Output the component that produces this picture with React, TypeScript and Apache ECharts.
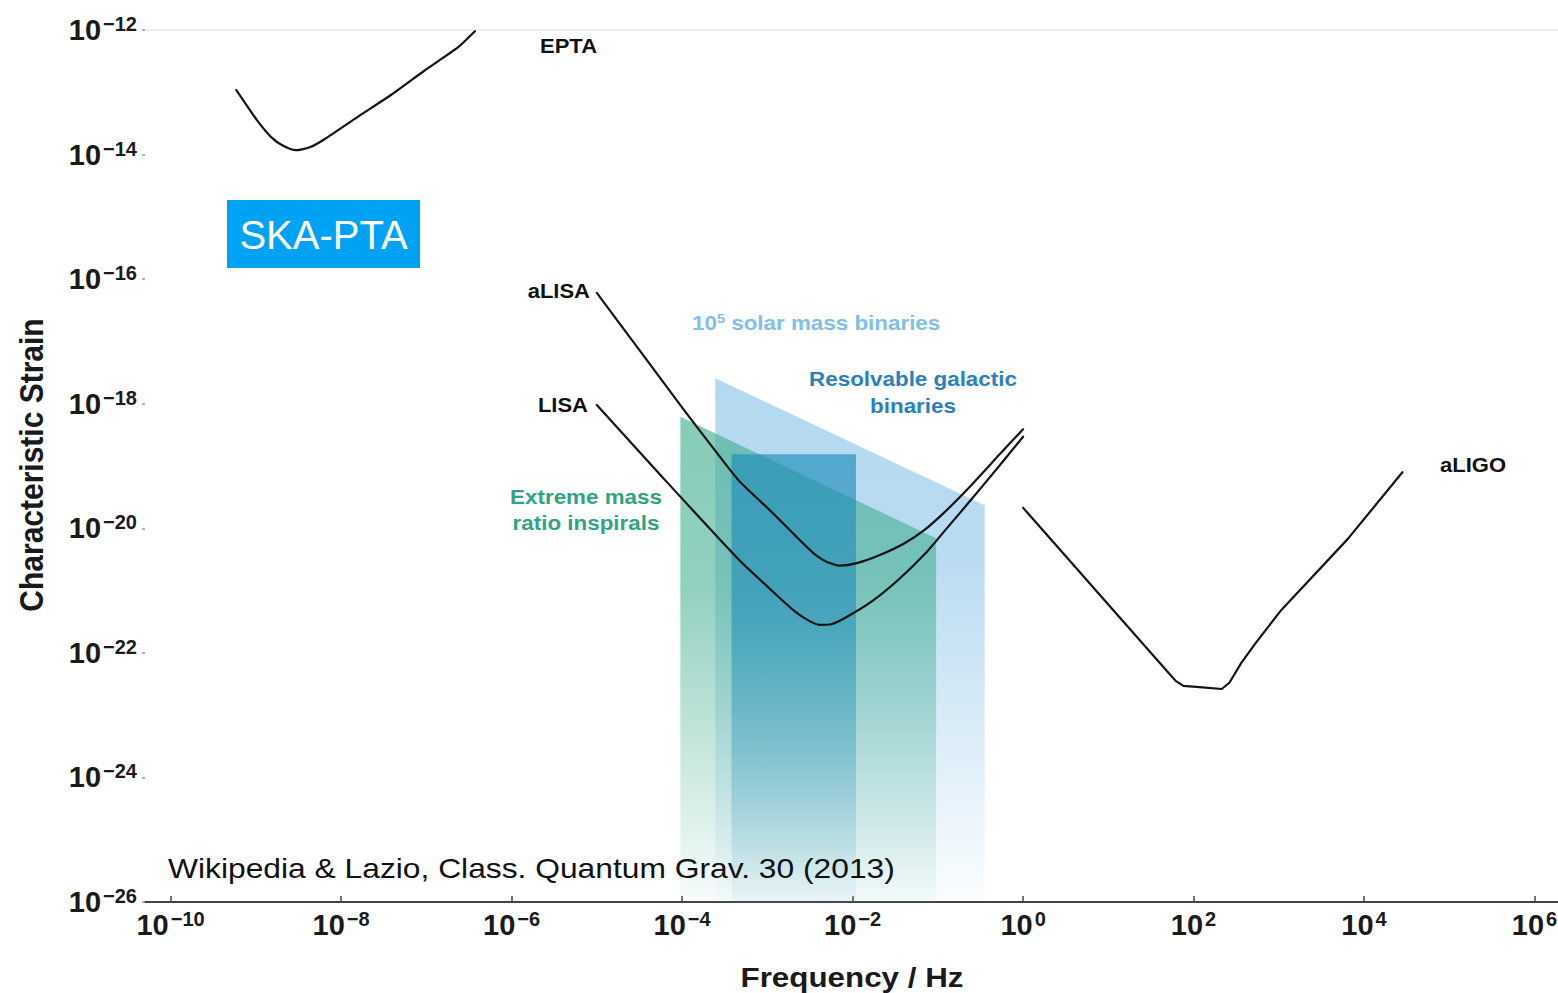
import React, { useEffect, useRef } from "react";
import * as echarts from "echarts";

// All values are log10(frequency / Hz) and log10(characteristic strain)
const xTicks = [-10, -8, -6, -4, -2, 0, 2, 4, 6];
const yTicks = [-26, -24, -22, -20, -18, -16, -14, -12];
const xRange = [-10.3, 6.275];
const yRange = [-26, -12];

const eptaCurve = [
  [-9.23, -12.96], [-8.98, -13.46], [-8.82, -13.72], [-8.69, -13.85], [-8.53, -13.93],
  [-8.36, -13.88], [-8.19, -13.75], [-7.8, -13.39], [-7.41, -13.04], [-7.02, -12.65],
  [-6.63, -12.28], [-6.43, -12.02],
];

const aLisaCurve = [
  [-5.0, -16.22], [-4.5, -17.14], [-3.95, -18.15], [-3.58, -18.81], [-3.33, -19.24],
  [-2.94, -19.75], [-2.62, -20.19], [-2.45, -20.41], [-2.3, -20.54], [-2.15, -20.6],
  [-1.95, -20.56], [-1.68, -20.43], [-1.39, -20.24], [-1.16, -20.03], [-0.92, -19.74],
  [-0.63, -19.34], [-0.28, -18.82], [0.0, -18.41],
];

const lisaCurve = [
  [-5.0, -18.02], [-4.23, -19.18], [-3.33, -20.51], [-2.94, -21.01], [-2.68, -21.33],
  [-2.53, -21.47], [-2.39, -21.55], [-2.25, -21.54], [-2.09, -21.44], [-1.77, -21.17],
  [-1.45, -20.81], [-1.13, -20.38], [-0.9, -20.01], [-0.59, -19.51], [-0.28, -19.0],
  [0.0, -18.53],
];

const aLigoCurve = [
  [0.0, -19.67], [1.7, -22.31], [1.79, -22.45], [1.88, -22.53], [2.07, -22.55],
  [2.33, -22.58], [2.42, -22.48], [2.56, -22.16], [2.73, -21.84], [3.03, -21.31],
  [3.81, -20.17], [4.45, -19.1],
];

// upper edges of the shaded source regions (they extend down to the axis)
const solarMassBinaries = [[-3.61, -17.59], [-0.45, -19.63]];
const emriRegion = [[-4.02, -18.21], [-1.02, -20.16]];
const galacticBinaries = [[-3.42, -18.81], [-1.96, -18.81]];

const FONT = '"Liberation Sans", Arial, Helvetica, sans-serif';

const sup = (v: number) => `{b|10}{s|${String(v).replace("-", "\u2212")}}`;

const richLabel = {
  b: { fontSize: 29, fontWeight: "bold", lineHeight: 32, fontFamily: FONT, color: "#1a1a1a" },
  s: { fontSize: 20, fontWeight: "bold", lineHeight: 19, verticalAlign: "top", fontFamily: FONT, color: "#1a1a1a", padding: [0, 0, 0, 2] },
};

function grad(r: number, g: number, b: number, a: number) {
  return new echarts.graphic.LinearGradient(0, 0, 0, 1, [
    { offset: 0, color: `rgba(${r},${g},${b},${a})` },
    { offset: 0.35, color: `rgba(${r},${g},${b},${a * 0.9})` },
    { offset: 1, color: `rgba(${r},${g},${b},${a * 0.06})` },
  ]);
}

function areaSeries(data: number[][], fill: any) {
  return {
    type: "line",
    data,
    symbol: "none",
    silent: true,
    lineStyle: { width: 0, opacity: 0 },
    areaStyle: { origin: "start", color: fill, opacity: 1 },
    z: 1,
  };
}

function curveSeries(data: number[][], smooth: number | boolean) {
  return {
    type: "line",
    data,
    symbol: "none",
    silent: true,
    smooth,
    lineStyle: { color: "#141414", width: 2.2, join: "round", cap: "round" },
    z: 3,
  };
}

function label(text: string, x: number, y: number, opts: any = {}) {
  return {
    type: "text",
    x,
    y,
    scaleX: opts.scaleX ?? 1.1,
    silent: true,
    z: 10,
    style: {
      text,
      fill: opts.fill ?? "#111",
      fontSize: opts.fontSize ?? 20,
      fontWeight: opts.fontWeight ?? "bold",
      fontFamily: FONT,
      align: opts.align ?? "left",
      textAlign: opts.align ?? "left",
      verticalAlign: "middle",
      textVerticalAlign: "middle",
      rich: opts.rich,
    },
  };
}

export default function App() {
  const ref = useRef<HTMLDivElement>(null);

  useEffect(() => {
    if (!ref.current) return;
    const chart = echarts.init(ref.current, null, { renderer: "svg" });
    const option: any = {
      animation: false,
      backgroundColor: "#ffffff",
      textStyle: { fontFamily: FONT },
      grid: { left: 145, right: 0, top: 30, bottom: 91, outerBoundsMode: "none", containLabel: false },
      xAxis: [
        {
          type: "value",
          min: xRange[0],
          max: xRange[1],
          position: "bottom",
          axisLine: { show: true, onZero: false, lineStyle: { color: "#444", width: 2 } },
          axisTick: { show: true, inside: true, length: 6, customValues: xTicks, lineStyle: { color: "#444", width: 1.5 } },
          axisLabel: { customValues: xTicks, margin: 7, formatter: sup, rich: richLabel },
          splitLine: { show: false },
        },
        {
          type: "value",
          min: xRange[0],
          max: xRange[1],
          position: "top",
          axisLine: { show: true, onZero: false, lineStyle: { color: "#eeeeee", width: 2 } },
          axisTick: { show: false },
          axisLabel: { show: false },
          splitLine: { show: false },
        },
      ],
      yAxis: {
        type: "value",
        min: yRange[0],
        max: yRange[1],
        interval: 2,
        position: "left",
        axisLine: { show: false, onZero: false },
        axisTick: { show: true, length: 3, lineStyle: { color: "#999", width: 1.5 } },
        axisLabel: { margin: 8, formatter: sup, rich: richLabel },
        splitLine: { show: false },
      },
      series: [
        areaSeries(solarMassBinaries, grad(128, 190, 230, 0.6)),
        areaSeries(emriRegion, grad(69, 175, 146, 0.65)),
        areaSeries(galacticBinaries, grad(30, 140, 185, 0.65)),
        curveSeries(eptaCurve, 0.2),
        curveSeries(aLisaCurve, 0.2),
        curveSeries(lisaCurve, 0.2),
        curveSeries(aLigoCurve, false),
      ],
      graphic: [
        { type: "rect", silent: true, z: 10, shape: { x: 227, y: 200, width: 193, height: 68 }, style: { fill: "#00a2f4" } },
        label("SKA-PTA", 323.5, 235, { fill: "#ffffff", fontSize: 40, fontWeight: "normal", align: "center", scaleX: 1 }),
        label("EPTA", 540, 46),
        label("aLISA", 590, 291, { align: "right" }),
        label("LISA", 588, 405, { align: "right" }),
        label("aLIGO", 1440, 465),
        label("{a|10}{s|5}{a| solar mass binaries}", 692, 323, {
          fill: "#80c0ea",
          scaleX: 1.12,
          rich: {
            a: { fontSize: 20, fontWeight: "bold", fontFamily: FONT, fill: "#80c0ea", lineHeight: 22 },
            s: { fontSize: 13, fontWeight: "bold", fontFamily: FONT, fill: "#80c0ea", lineHeight: 13, verticalAlign: "top" },
          },
        }),
        label("Resolvable galactic", 913, 379, { fill: "#2b7fc0", align: "center", scaleX: 1.12 }),
        label("binaries", 913, 406, { fill: "#2b7fc0", align: "center", scaleX: 1.12 }),
        label("Extreme mass", 586, 497, { fill: "#31a385", align: "center", scaleX: 1.12 }),
        label("ratio inspirals", 586, 523, { fill: "#31a385", align: "center", scaleX: 1.12 }),
        label("Wikipedia & Lazio, Class. Quantum Grav. 30 (2013)", 168, 868, {
          fontSize: 28,
          fontWeight: "normal",
          scaleX: 1.135,
        }),
        label("Frequency / Hz", 852, 977, { fontSize: 28, align: "center", scaleX: 1.12, fill: "#1a1a1a" }),
        {
          type: "text",
          x: 31,
          y: 465,
          rotation: Math.PI / 2,
          scaleY: 1.1,
          silent: true,
          style: {
            text: "Characteristic Strain",
            fill: "#1a1a1a",
            fontSize: 30,
            fontWeight: "bold",
            fontFamily: FONT,
            align: "center",
            textAlign: "center",
            verticalAlign: "middle",
            textVerticalAlign: "middle",
          },
        },
      ],
    };
    chart.setOption(option);
    return () => chart.dispose();
  }, []);

  return (
    <div
      ref={ref}
      style={{ position: "absolute", left: 0, top: 0, width: 1558, height: 993, background: "#fff" }}
    />
  );
}
